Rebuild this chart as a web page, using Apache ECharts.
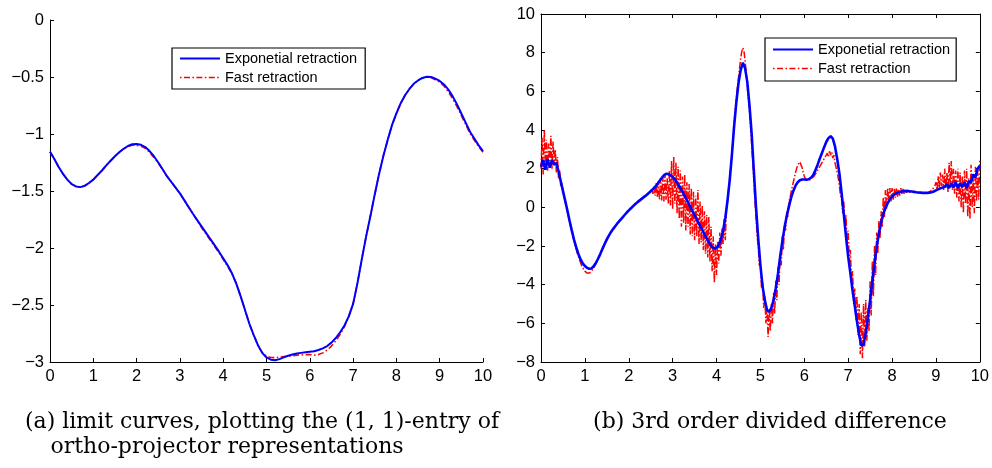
<!DOCTYPE html>
<html>
<head>
<meta charset="utf-8">
<script src="https://cdn.jsdelivr.net/npm/echarts@6/dist/echarts.min.js"></script>
<style>
html,body{margin:0;padding:0;background:#fff;}
#chart{width:992px;height:468px;}
</style>
</head>
<body>
<div id="chart"></div>
<script>
// ---------- DATA ----------
const seriesNames = ['Exponetial retraction', 'Fast retraction'];
const xTicks = [0, 1, 2, 3, 4, 5, 6, 7, 8, 9, 10];
const leftYTicks = [0, -0.5, -1, -1.5, -2, -2.5, -3];
const rightYTicks = [10, 8, 6, 4, 2, 0, -2, -4, -6, -8];
const captionA1 = '(a) limit curves, plotting the (1, 1)-entry of';
const captionA2 = 'ortho-projector representations';
const captionB = '(b) 3rd order divided difference';

// panel (a): samples at x = 0, 0.1, ..., 10
const leftStep = 0.1;
const leftBlue = [
 -1.155,-1.22,-1.29,-1.35,-1.40,-1.44,-1.46,-1.466,-1.455,-1.43,
 -1.40,-1.36,-1.32,-1.275,-1.235,-1.195,-1.16,-1.13,-1.105,-1.09,
 -1.088,-1.095,-1.115,-1.15,-1.195,-1.25,-1.31,-1.37,-1.42,-1.47,
 -1.52,-1.58,-1.64,-1.70,-1.755,-1.81,-1.865,-1.92,-1.975,-2.03,
 -2.09,-2.15,-2.22,-2.31,-2.42,-2.54,-2.66,-2.76,-2.85,-2.92,
 -2.96,-2.98,-2.985,-2.975,-2.96,-2.945,-2.935,-2.925,-2.92,-2.915,
 -2.91,-2.905,-2.895,-2.88,-2.86,-2.83,-2.79,-2.74,-2.68,-2.60,
 -2.49,-2.31,-2.10,-1.90,-1.72,-1.53,-1.35,-1.19,-1.05,-0.92,
 -0.82,-0.73,-0.66,-0.605,-0.56,-0.53,-0.508,-0.498,-0.50,-0.515,
 -0.535,-0.565,-0.61,-0.67,-0.74,-0.82,-0.90,-0.98,-1.04,-1.10,
 -1.15
];
const leftRed = [
 -1.155,-1.22,-1.29,-1.35,-1.40,-1.44,-1.46,-1.466,-1.455,-1.43,
 -1.40,-1.36,-1.32,-1.275,-1.235,-1.195,-1.16,-1.13,-1.11,-1.098,
 -1.10,-1.105,-1.125,-1.16,-1.205,-1.255,-1.31,-1.37,-1.42,-1.47,
 -1.52,-1.58,-1.64,-1.70,-1.76,-1.82,-1.875,-1.93,-1.985,-2.04,
 -2.10,-2.16,-2.225,-2.31,-2.42,-2.54,-2.66,-2.76,-2.85,-2.915,
 -2.95,-2.96,-2.962,-2.958,-2.952,-2.948,-2.945,-2.94,-2.938,-2.935,
 -2.935,-2.94,-2.935,-2.92,-2.895,-2.86,-2.815,-2.76,-2.69,-2.60,
 -2.49,-2.31,-2.10,-1.90,-1.72,-1.53,-1.35,-1.19,-1.05,-0.92,
 -0.82,-0.73,-0.66,-0.605,-0.56,-0.53,-0.508,-0.50,-0.505,-0.525,
 -0.545,-0.58,-0.63,-0.69,-0.76,-0.84,-0.915,-0.995,-1.055,-1.11,
 -1.16
];

// panel (b): blue sampled at x = 0, 0.05, ..., 10
const rightBlueStep = 0.05;
const rightBlue = [
 2.1,2.45,1.95,2.5,2.05,2.45,2.2,2.3,1.85,1.35,
 0.85,0.35,-0.15,-0.68,-1.18,-1.65,-2.05,-2.4,-2.68,-2.9,
 -3.03,-3.13,-3.18,-3.16,-3.05,-2.88,-2.66,-2.42,-2.15,-1.9,
 -1.66,-1.45,-1.26,-1.1,-0.95,-0.8,-0.67,-0.54,-0.41,-0.28,
 -0.16,-0.05,0.06,0.17,0.27,0.36,0.45,0.54,0.63,0.73,
 0.83,0.94,1.06,1.2,1.36,1.52,1.66,1.74,1.72,1.66,
 1.58,1.45,1.28,1.1,0.9,0.7,0.48,0.26,0.03,-0.2,
 -0.42,-0.63,-0.84,-1.06,-1.28,-1.5,-1.7,-1.9,-2.05,-2.13,
 -2.1,-1.95,-1.65,-1.2,-0.55,0.35,1.4,2.7,4.17,5.4,
 6.41,7.1,7.48,7.2,6.5,5.3,3.82,1.9,0.0,-1.6,
 -3.0,-4.1,-4.8,-5.3,-5.4,-5.2,-4.8,-4.2,-3.45,-2.55,
 -1.75,-1.05,-0.45,0.05,0.5,0.85,1.12,1.3,1.4,1.44,
 1.44,1.43,1.45,1.53,1.66,1.9,2.18,2.5,2.8,3.1,
 3.38,3.58,3.68,3.55,3.15,2.5,1.75,0.75,-0.35,-1.5,
 -2.55,-3.4,-4.3,-5.1,-5.9,-6.6,-7.15,-7.1,-6.5,-5.7,
 -4.8,-3.85,-2.9,-2.05,-1.35,-0.8,-0.35,-0.02,0.22,0.42,
 0.56,0.66,0.74,0.78,0.81,0.83,0.84,0.84,0.83,0.82,
 0.8,0.78,0.77,0.76,0.75,0.75,0.75,0.76,0.78,0.82,
 0.88,0.93,0.98,1.02,1.06,1.2,1.0,1.25,1.02,1.3,
 1.0,1.25,1.05,1.3,1.0,1.35,1.3,1.7,1.55,2.0,
 2.15
];

// panel (b): red sampled at x = 0, 0.025, ..., 10
const rightRedStep = 0.025;
const rightRed = [
 2.0,3.6,1.7,4.0,2.2,3.5,1.9,3.3,2.1,3.7,
 2.0,3.4,2.2,3.0,1.8,2.6,1.5,1.9,1.1,1.3,
 0.8,0.55,0.3,0.05,-0.2,-0.45,-0.72,-0.98,-1.24,-1.48,
 -1.72,-1.95,-2.15,-2.35,-2.52,-2.7,-2.85,-3.0,-3.12,-3.22,
 -3.3,-3.36,-3.4,-3.42,-3.4,-3.36,-3.3,-3.24,-3.15,-3.05,
 -2.92,-2.78,-2.64,-2.52,-2.4,-2.27,-2.14,-2.02,-1.9,-1.78,
 -1.66,-1.55,-1.45,-1.35,-1.26,-1.18,-1.1,-1.02,-0.95,-0.87,
 -0.8,-0.73,-0.67,-0.6,-0.54,-0.47,-0.41,-0.34,-0.28,-0.22,
 -0.16,-0.1,-0.05,0.0,0.06,0.12,0.17,0.22,0.3,0.34,
 0.4,0.44,0.49,0.52,0.56,0.6,0.64,0.68,0.72,0.78,
 0.82,0.95,0.7,1.1,0.6,1.25,0.5,1.35,0.4,1.5,
 0.35,1.6,0.3,1.7,0.4,1.5,0.2,1.9,0.1,2.4,
 -0.1,2.6,0.2,2.3,-0.3,2.1,-0.6,1.9,-1.0,1.6,
 -0.8,1.7,-1.2,1.3,-1.0,1.2,-1.4,1.0,-1.5,0.8,
 -1.7,0.6,-1.5,0.9,-1.9,0.3,-1.8,0.1,-2.2,-0.2,
 -2.4,-0.4,-2.6,-0.5,-2.8,-1.0,-3.3,-1.5,-3.9,-1.9,
 -3.5,-1.8,-2.9,-1.3,-2.5,-1.1,-1.9,-0.6,-1.7,-0.2,
 0.3,0.9,1.5,2.1,2.8,3.5,4.3,5.0,5.6,6.2,
 6.7,7.2,7.7,8.05,8.25,8.1,7.6,7.0,6.3,5.6,
 5.0,4.2,3.3,2.4,1.4,0.4,-0.5,-1.5,-2.0,-3.0,
 -2.8,-4.2,-3.9,-5.2,-4.6,-6.0,-5.2,-6.7,-5.3,-6.4,
 -5.0,-6.0,-4.4,-5.5,-3.8,-4.8,-3.1,-4.0,-2.4,-3.0,
 -1.5,-2.2,-0.8,-1.2,-0.2,-0.5,0.3,0.5,0.8,1.05,
 1.3,1.55,1.8,2.0,2.2,2.3,2.35,2.25,2.05,1.8,
 1.6,1.48,1.42,1.4,1.4,1.42,1.45,1.5,1.55,1.62,
 1.7,1.8,1.9,2.0,2.1,2.2,2.3,2.4,2.5,2.6,
 2.55,2.8,2.6,2.9,2.7,2.85,2.55,2.7,2.3,2.2,
 1.8,1.5,1.1,0.6,0.4,-0.3,0.3,-0.9,-0.4,-1.8,
 -1.2,-2.8,-2.2,-3.8,-3.3,-5.0,-4.2,-5.8,-4.6,-6.6,
 -5.0,-7.6,-5.4,-7.8,-5.0,-7.2,-4.8,-6.9,-5.2,-6.4,
 -3.8,-5.6,-2.8,-4.6,-2.0,-3.5,-1.3,-2.4,-0.7,-1.6,
 -0.2,-1.0,0.5,-0.5,0.9,-0.1,1.0,0.2,1.0,0.3,
 1.0,0.4,0.95,0.5,1.0,0.55,0.95,0.6,1.0,0.65,
 0.95,0.7,0.95,0.75,0.9,0.78,0.88,0.8,0.85,0.8,
 0.8,0.79,0.78,0.77,0.77,0.76,0.76,0.75,0.75,0.75,
 0.75,0.75,0.76,0.77,0.8,0.84,0.9,0.95,1.05,1.1,
 1.3,0.9,1.6,1.0,1.8,1.1,1.7,0.9,2.0,1.0,
 1.8,0.8,2.3,1.2,2.4,0.9,2.0,0.7,1.9,0.5,
 2.0,0.3,1.8,0.0,1.6,-0.3,1.9,0.2,2.0,-0.5,
 1.5,-0.6,2.2,0.0,1.7,-0.3,2.1,0.3,1.9,0.4,
 2.5
];

// ---------- CHART ----------
function toPairs(arr, step) {
  return arr.map((v, i) => [+(i * step).toFixed(4), v]);
}
const minus = v => String(v).replace('-', '\u2212');
const BLUE = '#0000ff', RED = '#ff0000';
const LABEL_SIZE = 16.5;

function xAx(grid, showLabels, position) {
  return {
    type: 'value', gridIndex: grid, min: 0, max: 10, interval: 1,
    position: position || 'bottom',
    axisLine: { show: true, onZero: false, lineStyle: { color: '#000', width: 1 } },
    axisTick: { show: true, inside: true, length: 4, lineStyle: { color: '#000' } },
    axisLabel: {
      show: showLabels, margin: 6,
      fontFamily: 'Liberation Sans', fontSize: LABEL_SIZE, color: '#000',
      formatter: v => xTicks.includes(v) ? String(v) : ''
    },
    splitLine: { show: false }
  };
}
function yAx(grid, min, max, interval, ticks, showLabels, position) {
  return {
    type: 'value', gridIndex: grid, min: min, max: max, interval: interval,
    position: position || 'left',
    axisLine: { show: true, onZero: false, lineStyle: { color: '#000', width: 1 } },
    axisTick: { show: true, inside: true, length: 4, lineStyle: { color: '#000' } },
    axisLabel: {
      show: showLabels, margin: 6,
      fontFamily: 'Liberation Sans', fontSize: LABEL_SIZE, color: '#000',
      formatter: v => ticks.includes(v) ? minus(v) : ''
    },
    splitLine: { show: false }
  };
}

// legend icons: solid line and dash-dot line (40 x 2 px)
const solidIcon = 'path://M0,0H40V2.2H0Z';
const dashDotIcon = 'path://M0,0H1.6V1.6H0Z M4,0H10V1.6H4Z M12.4,0H14V1.6H12.4Z M16.4,0H22.4V1.6H16.4Z M24.8,0H26.4V1.6H24.8Z M28.8,0H34.8V1.6H28.8Z M37.2,0H38.8V1.6H37.2Z M38.8,0H40V0.01H38.8Z';

const legendCommon = {
  orient: 'vertical',
  data: [
    { name: seriesNames[0], icon: solidIcon, itemStyle: { color: BLUE } },
    { name: seriesNames[1], icon: dashDotIcon, itemStyle: { color: RED } }
  ],
  itemWidth: 40, itemHeight: 14, itemGap: 4,
  backgroundColor: '#fff',
  borderColor: '#000', borderWidth: 1.2,
  textStyle: { fontFamily: 'Liberation Sans', fontSize: 14.5, color: '#000' },
  selectedMode: false
};

const chart = echarts.init(document.getElementById('chart'), null, { renderer: 'canvas' });
chart.setOption({
  backgroundColor: '#fff',
  animation: false,
  grid: [
    { left: 50, right: 509, top: 20, bottom: 106 },
    { left: 541, right: 11, top: 14, bottom: 106 }
  ],
  xAxis: [
    xAx(0, true, 'bottom'),
    xAx(1, true, 'bottom'),
    xAx(1, false, 'top')
  ],
  yAxis: [
    yAx(0, -3, 0, 0.5, leftYTicks, true, 'left'),
    yAx(1, -8, 10, 2, rightYTicks, true, 'left'),
    yAx(1, -8, 10, 2, rightYTicks, false, 'right')
  ],
  legend: [
    Object.assign({ left: 172, top: 48, padding: [3, 8, 4, 8] }, legendCommon),
    Object.assign({ left: 765, top: 38, padding: [4, 6, 5, 8] }, legendCommon)
  ],
  series: [
    { name: seriesNames[0], type: 'line', xAxisIndex: 0, yAxisIndex: 0, z: 3,
      data: toPairs(leftBlue, leftStep), showSymbol: false, symbol: 'none',
      lineStyle: { color: BLUE, width: 2 }, itemStyle: { color: BLUE } },
    { name: seriesNames[1], type: 'line', xAxisIndex: 0, yAxisIndex: 0, z: 2,
      data: toPairs(leftRed, leftStep), showSymbol: false, symbol: 'none',
      lineStyle: { color: RED, width: 1.6, type: [6, 2.5, 1.5, 2.5] }, itemStyle: { color: RED } },
    { name: seriesNames[0], type: 'line', xAxisIndex: 1, yAxisIndex: 1, z: 3,
      data: toPairs(rightBlue, rightBlueStep), showSymbol: false, symbol: 'none',
      lineStyle: { color: BLUE, width: 2.6 }, itemStyle: { color: BLUE } },
    { name: seriesNames[1], type: 'line', xAxisIndex: 1, yAxisIndex: 1, z: 2,
      data: toPairs(rightRed, rightRedStep), showSymbol: false, symbol: 'none',
      lineStyle: { color: RED, width: 1.5, type: [7, 2, 1.5, 2] }, itemStyle: { color: RED } }
  ],
  graphic: [
    { type: 'text', x: 262, y: 422, style: { text: captionA1, fontFamily: 'DejaVu Serif', fontSize: 22, fill: '#000', align: 'center', verticalAlign: 'middle', textAlign: 'center', textVerticalAlign: 'middle' } },
    { type: 'text', x: 227, y: 447, style: { text: captionA2, fontFamily: 'DejaVu Serif', fontSize: 22, fill: '#000', align: 'center', verticalAlign: 'middle', textAlign: 'center', textVerticalAlign: 'middle' } },
    { type: 'text', x: 770, y: 422, style: { text: captionB, fontFamily: 'DejaVu Serif', fontSize: 22, fill: '#000', align: 'center', verticalAlign: 'middle', textAlign: 'center', textVerticalAlign: 'middle' } }
  ]
});
</script>
</body>
</html>
